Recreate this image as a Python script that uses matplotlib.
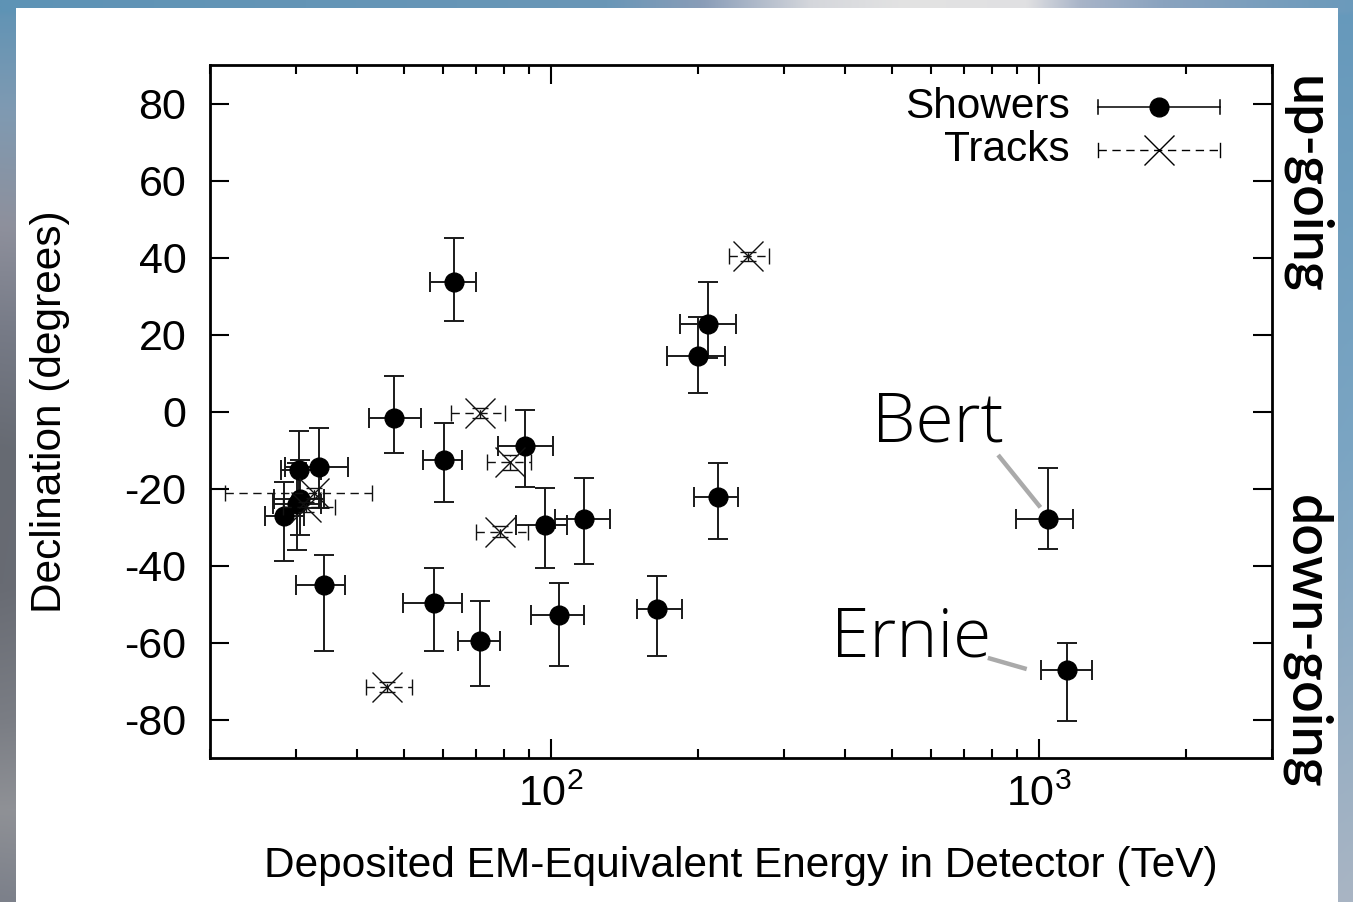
import numpy as np
import matplotlib
matplotlib.use("Agg")
import matplotlib.pyplot as plt
from matplotlib.patches import Rectangle
from matplotlib.ticker import LogLocator, FixedLocator, FixedFormatter, NullFormatter

# ---------------- data ----------------
shower_energy = [47.6, 117, 165, 28.4, 34.3, 63.2, 97.2, 88.4, 104, 1041, 57.5,
                 30.6, 200, 71.5, 1141, 30.2, 220, 30.5, 33.5, 210, 60.2]
shower_e_lo = [5.2, 15, 15, 2.5, 4.3, 6.8, 12.4, 10.7, 13, 144, 7.8,
               3.5, 27, 7.2, 133, 3.3, 24, 2.6, 5.0, 26, 5.6]
shower_e_hi = [6.5, 15, 20, 2.7, 3.5, 7.1, 10.4, 12.5, 13, 132, 8.3,
               3.6, 27, 7.0, 143, 3.5, 21, 3.2, 4.9, 29, 5.6]
shower_dec = [-1.8, -28.0, -51.2, -27.2, -45.1, 33.6, -29.4, -8.9, -52.8, -27.9, -49.7,
              -22.6, 14.5, -59.7, -67.2, -24.0, -22.1, -15.1, -14.5, 22.7, -12.6]
shower_d_lo = [9.1, 11.7, 12.3, 11.6, 17.2, 10.1, 11.2, 10.7, 13.2, 7.9, 12.6,
               9.6, 9.7, 11.6, 13.2, 11.9, 10.9, 10.0, 10.5, 8.8, 10.9]
shower_d_hi = [11.1, 10.7, 8.6, 8.9, 7.7, 11.4, 9.6, 9.3, 8.3, 13.1, 9.1,
               10.0, 10.1, 10.4, 7.2, 10.5, 8.6, 10.1, 10.2, 10.9, 9.6]

track_energy = [78.7, 71.4, 32.6, 253, 31.5, 82.2, 46.1]
track_e_lo = [8.7, 9.0, 11.1, 22, 3.3, 8.4, 4.4]
track_e_hi = [10.8, 9.0, 10.3, 26, 4.6, 8.6, 5.7]
track_dec = [-31.2, -0.4, -21.2, 40.3, -24.8, -13.2, -71.5]
track_d_err = [1.4, 1.2, 1.3, 1.2, 1.3, 1.9, 1.3]

y_ticks = [-80, -60, -40, -20, 0, 20, 40, 60, 80]
x_major = [100, 1000]
x_major_labels = ["10$^2$", "10$^3$"]

# annotation anchor points (energy, declination)
bert_text_pos = (455, -7.9)
bert_line = ([824, 1006], [-11.3, -24.9])
ernie_text_pos = (374, -63.7)
ernie_line = ([785, 943], [-64.0, -66.9])

# ---------------- style ----------------
plt.rcParams["font.family"] = ["Liberation Sans", "DejaVu Sans"]
plt.rcParams["mathtext.fontset"] = "custom"
plt.rcParams["mathtext.rm"] = "Liberation Sans"
plt.rcParams["mathtext.default"] = "regular"
plt.rcParams["axes.unicode_minus"] = False

W, H = 1353, 902
fig = plt.figure(figsize=(W / 100, H / 100), dpi=100)

# background gradient
bg = fig.add_axes([0, 0, 1, 1], zorder=-10)
bg.set_axis_off()
ny, nx = 200, 300
ys = np.linspace(0, 1, ny)
xs = np.linspace(0, 1, nx)
def hex2rgb(h):
    h = h.lstrip("#")
    return np.array([int(h[i:i + 2], 16) / 255 for i in (0, 2, 4)])
lstops = [0, 0.12, 0.25, 0.37, 0.5, 0.65, 0.8, 0.9, 1.0]
lcols = [hex2rgb(c) for c in ["#5f93b5", "#7f9ab2", "#8e909c", "#767a86", "#666a72",
                              "#686b73", "#7a7d84", "#8f9196", "#7c808a"]]
rstops = [0, 0.5, 1.0]
rcols = [hex2rgb(c) for c in ["#6699bb", "#7ba5c3", "#a9b5c4"]]
left = np.stack([np.interp(ys, lstops, [c[k] for c in lcols]) for k in range(3)], axis=1)
right = np.stack([np.interp(ys, rstops, [c[k] for c in rcols]) for k in range(3)], axis=1)
img = left[:, None, :] * (1 - xs[None, :, None]) + right[:, None, :] * xs[None, :, None]
tstops = [0, 0.45, 0.52, 0.6, 0.67, 0.76, 0.8, 0.86, 1.0]
tcols = [hex2rgb(c) for c in ["#5e93b5", "#6a97b7", "#8a9db8", "#d5d7dc", "#e3e3e3",
                              "#e0e0e2", "#a8b4c8", "#8aa3bf", "#6b9abb"]]
top = np.stack([np.interp(xs, tstops, [c[k] for c in tcols]) for k in range(3)], axis=1)
img[:3, :, :] = top[None, :, :]
bg.imshow(img, extent=[0, 1, 0, 1], aspect="auto", origin="upper", interpolation="bilinear")
bg.set_xlim(0, 1)
bg.set_ylim(0, 1)
bg.add_patch(Rectangle((16 / W, 0), (1338 - 16) / W, (H - 8) / H, facecolor="white",
                       edgecolor="none", transform=bg.transAxes, zorder=5))

# main axes
ax = fig.add_axes([210 / W, 1 - 758 / H, (1272 - 210) / W, (758 - 65) / H])
ax.set_facecolor("none")
ax.set_xscale("log")

ax.errorbar(shower_energy, shower_dec,
            xerr=[shower_e_lo, shower_e_hi], yerr=[shower_d_lo, shower_d_hi],
            fmt="o", ms=13.5, color="black", ecolor="#1a1a1a",
            elinewidth=1.4, capsize=7, capthick=1.4, zorder=3)
eb = ax.errorbar(track_energy, track_dec,
                 xerr=[track_e_lo, track_e_hi], yerr=[track_d_err, track_d_err],
                 fmt="x", ms=21, mew=1.0, color="#111111", ecolor="#111111",
                 elinewidth=1.0, capsize=6, capthick=1.0, zorder=4)
for lc in eb[2]:
    lc.set_linestyle((0, (6, 4)))

ax.set_xlim(20, 3000)
ax.set_ylim(-90, 90)
ax.yaxis.set_major_locator(FixedLocator(y_ticks))
ax.xaxis.set_major_locator(FixedLocator(x_major))
ax.xaxis.set_major_formatter(FixedFormatter(x_major_labels))
ax.xaxis.set_minor_locator(LogLocator(base=10, subs=np.arange(2, 10)))
ax.xaxis.set_minor_formatter(NullFormatter())

for s in ax.spines.values():
    s.set_linewidth(2)
ax.tick_params(which="both", direction="in", top=True, right=True, width=1.5)
ax.tick_params(which="major", length=14)
ax.tick_params(which="minor", length=6.5)
ax.tick_params(axis="y", which="major", labelsize=31, pad=17)
ax.tick_params(axis="x", which="major", labelsize=31, pad=12)

ax.set_ylabel("Declination (degrees)", fontsize=30.5)
ax.yaxis.set_label_coords((70 - 210) / 1062, 0.5)
ax.set_xlabel("Deposited EM-Equivalent Energy in Detector (TeV)", fontsize=30.5)
ax.xaxis.set_label_coords(0.5, (758 - 846) / 693)

# legend (gnuplot style: text left of sample)
tr = ax.transAxes
lx0, lx1, lxm = (1098 - 210) / 1062, (1220 - 210) / 1062, (1159 - 210) / 1062
ly_s, ly_t = (758 - 107) / 693, (758 - 150) / 693
txt_x = (1070 - 210) / 1062
ax.text(txt_x, ly_s, "Showers", transform=tr, ha="right", va="center", fontsize=30.5)
ax.text(txt_x, ly_t, "Tracks", transform=tr, ha="right", va="center", fontsize=30.5)
ax.plot([lx0, lx1], [ly_s, ly_s], transform=tr, color="black", lw=1.1, clip_on=False)
cap_h = 7 / 693
for xx in (lx0, lx1):
    ax.plot([xx, xx], [ly_s - cap_h, ly_s + cap_h], transform=tr, color="black", lw=1.1)
    ax.plot([xx, xx], [ly_t - cap_h, ly_t + cap_h], transform=tr, color="black", lw=1.0)
ax.plot([lxm], [ly_s], transform=tr, marker="o", ms=13.5, color="black")
ax.plot([lx0, lx1], [ly_t, ly_t], transform=tr, color="black", lw=1.0, ls=(0, (6, 4)))
ax.plot([lxm], [ly_t], transform=tr, marker="x", ms=21, mew=1.0, color="black")

# Bert / Ernie labels
ax.plot(*bert_line, color="#aaaaaa", lw=3.2, solid_capstyle="butt", zorder=2)
ax.plot(*ernie_line, color="#aaaaaa", lw=3.2, solid_capstyle="butt", zorder=2)
ax.text(*bert_text_pos, "Bert", fontsize=50, family=["Open Sans", "DejaVu Sans"],
        fontweight="light", ha="left", va="baseline")
ax.text(*ernie_text_pos, "Ernie", fontsize=50, family=["Open Sans", "DejaVu Sans"],
        fontweight="light", ha="left", va="baseline")

# up-going / down-going
fig.text(1306 / W, 1 - 185 / H, "up-going", rotation=-90, fontsize=40,
         family=["Lato", "DejaVu Sans"], fontweight="semibold", ha="center", va="center")
fig.text(1306 / W, 1 - 642 / H, "down-going", rotation=-90, fontsize=40,
         family=["Lato", "DejaVu Sans"], fontweight="semibold", ha="center", va="center")

fig.savefig("out.png", dpi=100)
